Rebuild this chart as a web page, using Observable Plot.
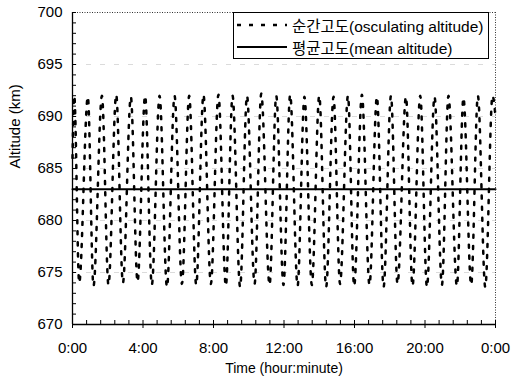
<!DOCTYPE html>
<html><head><meta charset="utf-8">
<script src="https://cdn.jsdelivr.net/npm/d3@7"></script>
<script src="https://cdn.jsdelivr.net/npm/@observablehq/plot@0.6"></script>
<style>
body{margin:0;background:#fff;font-family:"Liberation Sans",Arial,"Noto Sans CJK KR",sans-serif;}
#wrap{position:relative;width:514px;height:386px;}
#legend{position:absolute;left:233px;top:12px;width:256px;height:47px;border:1px solid #000;background:#fff;font-size:15.5px;box-sizing:border-box;padding-top:1px;white-space:nowrap;}
#legend .row{display:flex;align-items:center;height:22px;}
#legend svg{margin-left:2px;margin-right:4px;}
</style></head><body>
<div id="wrap"><div id="chart"></div><div id="legend"></div></div>
<script>
// ---- data ----
const seriesNames = ["순간고도(osculating altitude)", "평균고도(mean altitude)"];
const extremaTime = [0.00, 0.10, 0.38, 0.87, 1.19, 1.67, 2.04, 2.48, 2.86, 3.31, 3.69, 4.12, 4.50, 4.94, 5.36, 5.79, 6.21, 6.62, 7.02, 7.43, 7.85, 8.28, 8.70, 9.08, 9.51, 9.90, 10.33, 10.71, 11.18, 11.56, 11.97, 12.35, 12.77, 13.16, 13.58, 14.00, 14.39, 14.81, 15.18, 15.63, 15.98, 16.42, 16.85, 17.27, 17.65, 18.07, 18.44, 18.92, 19.29, 19.73, 20.11, 20.54, 20.96, 21.33, 21.81, 22.18, 22.62, 23.00, 23.42, 23.83, 24.00];
const extremaAltitude = [686.0, 692.0, 674.0, 691.9, 673.7, 692.0, 673.8, 692.1, 674.0, 691.9, 674.1, 692.0, 673.8, 692.0, 673.6, 692.0, 673.9, 692.0, 673.8, 692.1, 673.9, 692.1, 673.7, 692.0, 673.6, 692.0, 673.9, 692.2, 673.8, 692.0, 673.8, 692.1, 673.7, 691.9, 673.8, 692.0, 673.6, 691.9, 673.9, 692.0, 673.7, 692.1, 673.8, 691.9, 673.6, 692.0, 673.9, 691.9, 673.7, 692.0, 673.6, 691.9, 673.8, 692.0, 673.7, 691.8, 673.8, 692.0, 673.6, 692.0, 690.0];
const meanTime = [0, 6, 12, 18, 24];
const meanAltitude = [683.0, 683.0, 683.0, 683.0, 683.0];
const xDomain = [0, 24];
const yDomain = [670, 700];
const xTickHours = [0, 4, 8, 12, 16, 20, 24];
const xTickLabels = ["0:00", "4:00", "8:00", "12:00", "16:00", "20:00", "0:00"];
const xMinorTicks = [0.8, 1.6, 2.4, 3.2, 4.8, 5.6, 6.4, 7.2, 8.8, 9.6, 10.4, 11.2, 12.8, 13.6, 14.4, 15.2, 16.8, 17.6, 18.4, 19.2, 20.8, 21.6, 22.4, 23.2];
const yTicks = [670, 675, 680, 685, 690, 695, 700];
const yMinorTicks = [671,672,673,674,676,677,678,679,681,682,683,684,686,687,688,689,691,692,693,694,696,697,698,699];
const yGrid = [675, 680, 685, 690, 695];
const xTitle = "Time (hour:minute)";
const yTitle = "Altitude (km)";

// ---- chart ----
const W = 514, H = 386, mL = 72, mR = 19, mT = 12, mB = 62;
const innerW = W - mL - mR, innerH = H - mT - mB;
const osc = extremaTime.map((t, i) => ({t, alt: extremaAltitude[i]}));
const mean = meanTime.map((t, i) => ({t, alt: meanAltitude[i]}));
const dash = "3,8";

const chart = Plot.plot({
  width: W, height: H, marginLeft: mL, marginRight: mR, marginTop: mT, marginBottom: mB,
  style: {fontFamily: '"Liberation Sans", Arial, sans-serif', fontSize: "15px", color: "#000", background: "#fff"},
  x: {domain: xDomain},
  y: {domain: yDomain},
  marks: [
    Plot.ruleY(yGrid, {y: d => d, stroke: "#888", strokeOpacity: 0.3, strokeDasharray: "5,9"}),
    Plot.line(osc, {x: "t", y: "alt", curve: "monotone-x", stroke: "#000", strokeWidth: 2.5, strokeDasharray: dash}),
    Plot.line(mean, {x: "t", y: "alt", stroke: "#000", strokeWidth: 2}),
    Plot.ruleY([yDomain[1]], {y: d => d, stroke: "#333", strokeDasharray: "1,1.5"}),
    Plot.ruleX([xDomain[1]], {x: d => d, stroke: "#333", strokeDasharray: "1,1.5"}),
    Plot.ruleX([xDomain[0]], {x: d => d, stroke: "#000", strokeWidth: 1.3}),
    Plot.ruleY([yDomain[0]], {y: d => d, stroke: "#000", strokeWidth: 1.3}),
    Plot.tickX(xMinorTicks, {x: d => d, insetTop: innerH - 4, stroke: "#000"}),
    Plot.tickX(xTickHours, {x: d => d, insetTop: innerH - 4, stroke: "#000"}),
    Plot.tickY(yMinorTicks, {y: d => d, insetRight: innerW - 4, stroke: "#000"}),
    Plot.tickY(yTicks, {y: d => d, insetRight: innerW - 4, stroke: "#000"}),
    Plot.axisX(xTickHours, {tickSize: 4, tickPadding: 14, tickFormat: d => xTickLabels[xTickHours.indexOf(d)], label: null, fontSize: 15}),
    Plot.axisY(yTicks, {tickSize: 0, tickPadding: 10, label: null, fontSize: 15}),
    Plot.text([xTitle], {frameAnchor: "bottom", dy: 48, fontSize: 14, text: d => d}),
    Plot.text([yTitle], {frameAnchor: "left", dx: -57, rotate: -90, fontSize: 15, text: d => d})
  ]
});
document.getElementById("chart").appendChild(chart);

// legend
const lg = document.getElementById("legend");
seriesNames.forEach((name, i) => {
  const row = document.createElement("div");
  row.className = "row";
  row.innerHTML = `<svg width="52" height="10"><line x1="1" x2="51" y1="5" y2="5" stroke="#000" stroke-width="${i === 0 ? 2.6 : 2}" ${i === 0 ? 'stroke-dasharray="4,8"' : ''}/></svg><span>${name}</span>`;
  lg.appendChild(row);
});
</script>
</body></html>
